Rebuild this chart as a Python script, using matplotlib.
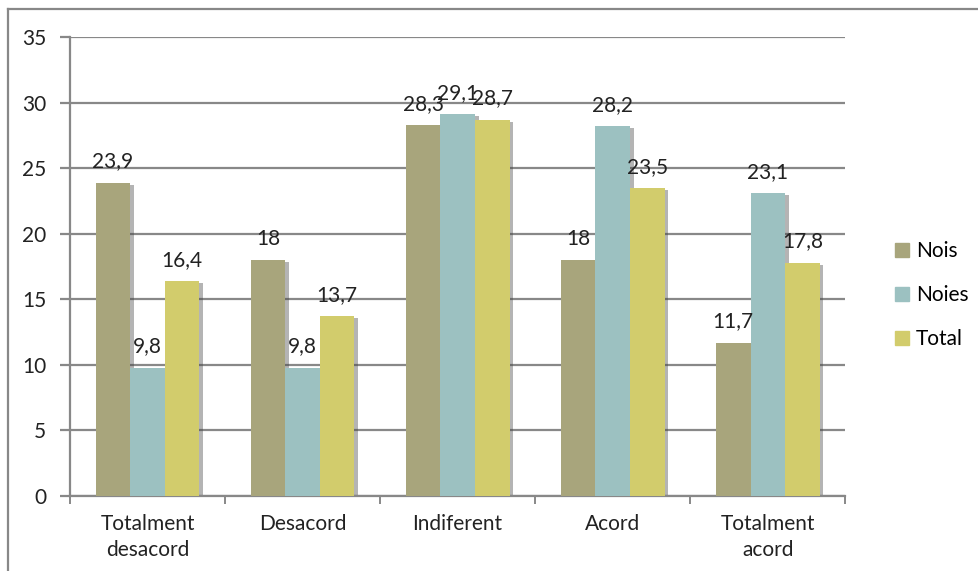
import matplotlib.pyplot as plt
from matplotlib.lines import Line2D
import numpy as np

# data
categories = ['Totalment\ndesacord', 'Desacord', 'Indiferent', 'Acord', 'Totalment\nacord']
series_names = ['Nois', 'Noies', 'Total']
nois = [23.9, 18, 28.3, 18, 11.7]
noies = [9.8, 9.8, 29.1, 28.2, 23.1]
total = [16.4, 13.7, 28.7, 23.5, 17.8]
colors = ['#a8a57c', '#9cc1c1', '#d2cc6c']

plt.rcParams['font.family'] = ['Lato', 'DejaVu Sans']

fig = plt.figure(figsize=(9.79, 5.71), dpi=100)
ax = fig.add_axes([0.0715, 0.1313, 0.792, 0.8039])

x = np.arange(len(categories))
w = 0.223
grid_col = '#888888'
txt_col = '#222222'

for k, vals in enumerate([nois, noies, total]):
    pos = x + (k - 1) * w
    # soft shadow on the right of each bar
    ax.bar(pos + 0.024, np.array(vals) - 0.15, w, color='#444444', alpha=0.4, zorder=2)
    ax.bar(pos, vals, w, color=colors[k], zorder=3, label=series_names[k])
    for p, v in zip(pos, vals):
        ax.annotate(f'{v:g}'.replace('.', ','), (p, v), xytext=(0, 8),
                    textcoords='offset points', ha='center', va='bottom',
                    fontsize=15, color=txt_col, zorder=4)

ax.set_xlim(-0.5, len(categories) - 0.5)
ax.set_ylim(0, 35)
ax.set_yticks(range(0, 36, 5))
ax.yaxis.grid(True, color=grid_col, linewidth=1.6, zorder=1)
ax.set_axisbelow(True)

ax.set_xticks(x)
ax.set_xticklabels(categories, fontsize=15, linespacing=1.4, color=txt_col)
ax.set_xticks(np.arange(-0.5, len(categories)), minor=True)
ax.tick_params(axis='x', which='major', length=0, pad=13)
ax.tick_params(axis='x', which='minor', length=6, width=1.4, color=grid_col)
ax.tick_params(axis='y', length=7, width=1.6, color=grid_col, pad=10,
               labelsize=15, labelcolor=txt_col)

for s in ['top', 'right']:
    ax.spines[s].set_visible(False)
ax.spines['left'].set_color(grid_col)
ax.spines['left'].set_linewidth(1.6)
ax.spines['bottom'].set_color(grid_col)
ax.spines['bottom'].set_linewidth(1.6)

# legend
handles = [Line2D([], [], marker='s', linestyle='', markersize=10,
                  markerfacecolor=c, markeredgecolor=c) for c in colors]
fig.legend(handles, series_names, loc='upper left', bbox_to_anchor=(0.892, 0.61),
           frameon=False, fontsize=15, labelspacing=1.15, handletextpad=0.15,
           handlelength=1.0)

# outer frame (top and left edges)
fig.add_artist(Line2D([0.0082, 1.0], [0.985, 0.985], color=grid_col, linewidth=1.6))
fig.add_artist(Line2D([0.0082, 0.0082], [0.0, 0.985], color=grid_col, linewidth=1.6))

plt.savefig('out.png', dpi=100)
